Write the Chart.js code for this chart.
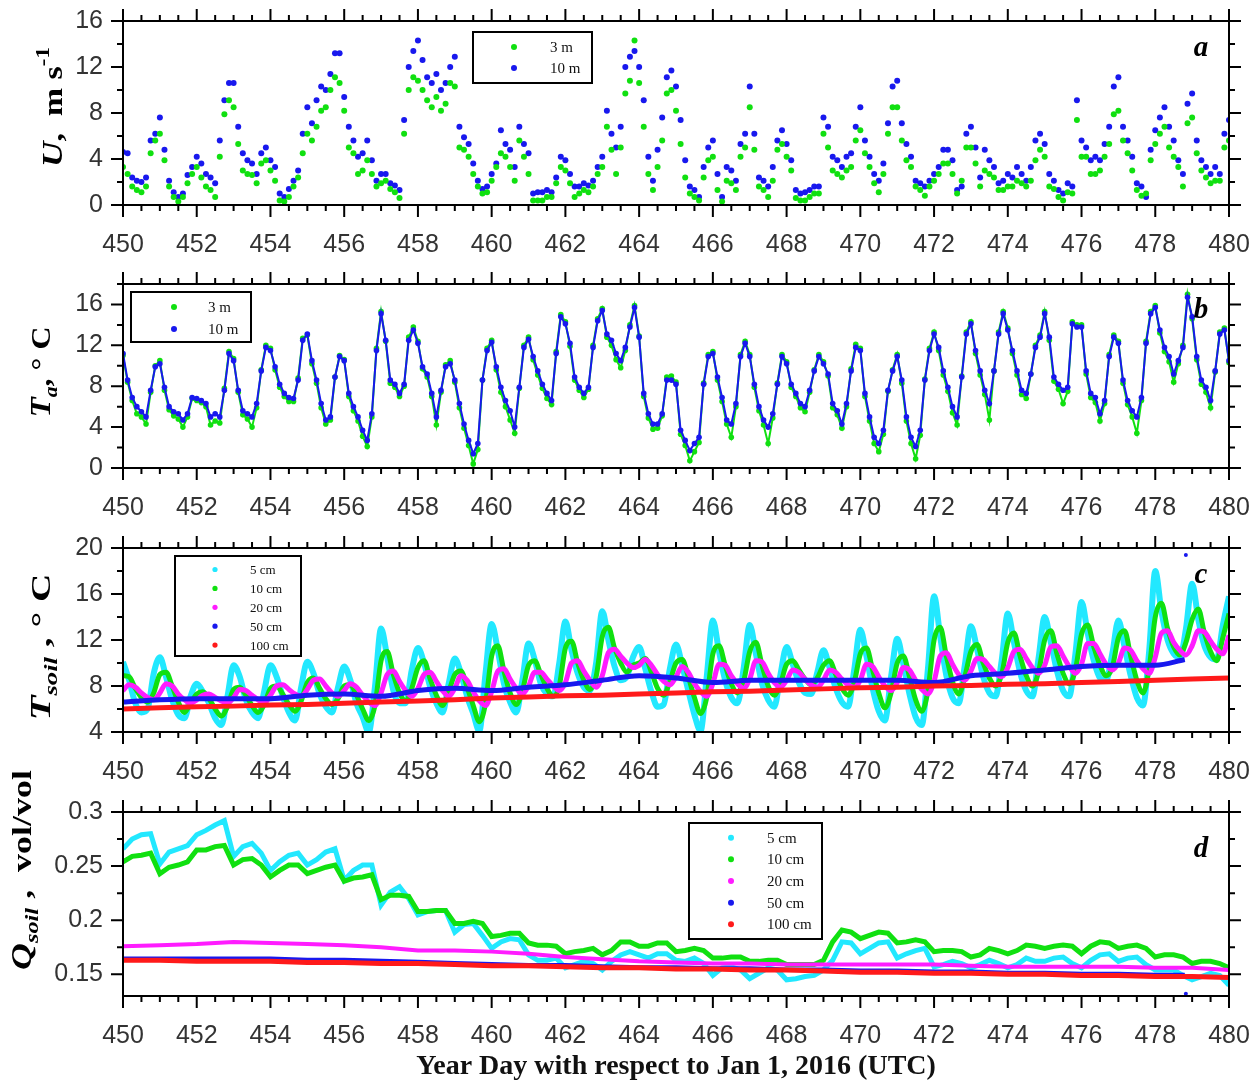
<!DOCTYPE html>
<html>
<head>
<meta charset="utf-8">
<script src="https://cdn.jsdelivr.net/npm/chart.js@4.4.1/dist/chart.umd.min.js"></script>
<style>
html, body { margin: 0; padding: 0; background: #fff; }
#wrap { position: relative; width: 1259px; height: 1084px; overflow: hidden; }
canvas { position: absolute; left: 0; }
</style>
</head>
<body>
<div id="wrap">
  <canvas id="panel-a" width="1259" height="263" style="top:0px"></canvas>
  <canvas id="panel-b" width="1259" height="264" style="top:263px"></canvas>
  <canvas id="panel-c" width="1259" height="264" style="top:527px"></canvas>
  <canvas id="panel-d" width="1259" height="324" style="top:760px"></canvas>
</div>
<script>
// ---- axis ticks ----
const xTicks = [450, 452, 454, 456, 458, 460, 462, 464, 466, 468, 470, 472, 474, 476, 478, 480];
const uTicks = [0, 4, 8, 12, 16];
const uMinor = [2, 6, 10, 14];
const taTicks = [0, 4, 8, 12, 16];
const taMinor = [2, 6, 10, 14, 18];
const tsTicks = [4, 8, 12, 16, 20];
const tsMinor = [6, 10, 14, 18];
const qTicks = [0.15, 0.2, 0.25, 0.3];
const qMinor = [0.175, 0.225, 0.275];

// ---- (a) wind speed, m/s, every 3 h from day 450 ----
const u3m = [
  3.3, 2.7, 1.6, 1.3, 1.1, 1.6, 4.5, 5.6,
  6.2, 3.9, 1.6, 0.7, 0.3, 0.7, 1.9, 2.7,
  3.3, 2.4, 1.6, 1.3, 0.7, 4.2, 7.9, 9.1,
  8.5, 5.3, 3.0, 2.7, 2.6, 1.9, 3.6, 3.9,
  3.0, 2.1, 0.4, 0.3, 0.7, 1.6, 2.4, 4.5,
  6.2, 5.6, 6.8, 8.2, 8.5, 10.0, 11.1, 10.6,
  8.2, 5.0, 4.5, 2.7, 3.0, 3.9, 2.7, 1.6,
  1.9, 2.1, 1.4, 1.1, 0.6, 6.2, 10.0, 11.1,
  10.8, 10.0, 9.1, 8.5, 9.4, 8.2, 8.8, 10.6,
  10.3, 5.0, 4.8, 4.2, 2.7, 1.6, 1.0, 1.1,
  2.1, 3.3, 4.5, 4.2, 3.3, 2.1, 5.6, 4.2,
  2.7, 0.4, 0.4, 0.4, 0.7, 0.7, 1.9, 3.3,
  3.0, 1.9, 0.7, 1.0, 1.3, 1.1, 1.6, 2.7,
  3.3, 6.8, 4.8, 2.7, 5.0, 9.7, 10.8, 14.3,
  10.6, 6.8, 2.7, 1.3, 3.3, 5.6, 9.7, 10.0,
  8.2, 5.3, 2.4, 1.0, 0.7, 0.4, 2.4, 3.9,
  4.2, 1.3, 0.3, 2.1, 1.9, 1.3, 4.2, 5.0,
  8.5, 4.8, 1.6, 1.3, 0.7, 2.1, 4.8, 5.3,
  4.2, 3.0, 0.6, 0.4, 0.4, 0.7, 1.0, 1.0,
  6.2, 5.0, 3.0, 2.7, 2.4, 3.0, 3.3, 5.6,
  6.5, 4.5, 3.3, 1.9, 1.1, 2.7, 6.2, 8.5,
  8.5, 5.6, 3.9, 3.3, 1.6, 1.3, 0.8, 1.6,
  2.1, 2.7, 3.6, 3.6, 2.7, 1.0, 2.1, 5.0,
  5.0, 3.6, 1.6, 3.0, 2.7, 2.4, 1.3, 1.3,
  1.6, 1.6, 2.1, 1.9, 1.6, 2.1, 3.9, 4.8,
  4.2, 1.6, 1.4, 0.7, 0.4, 1.1, 1.0, 7.4,
  4.2, 4.2, 2.7, 2.7, 3.0, 4.2, 5.3, 7.9,
  8.2, 5.6, 4.5, 3.0, 1.3, 0.8, 1.0, 3.9,
  5.3, 6.2, 6.8, 5.0, 4.2, 3.3, 1.6, 7.1,
  7.6, 4.5, 3.0, 2.4, 1.9, 2.1, 2.1, 5.0,
  5.6
];
const u10m = [
  4.6, 4.5, 2.4, 2.1, 2.0, 2.4, 5.6, 6.2,
  7.6, 4.8, 2.1, 1.1, 0.7, 1.0, 2.6, 3.3,
  4.2, 3.6, 2.7, 2.4, 1.9, 5.6, 9.1, 10.6,
  10.6, 6.8, 4.5, 3.9, 3.6, 2.7, 4.5, 5.0,
  3.9, 3.3, 1.0, 0.7, 1.4, 2.1, 3.0, 6.2,
  8.5, 7.1, 9.1, 10.3, 10.0, 11.4, 13.2, 13.2,
  9.4, 6.8, 5.6, 4.2, 4.5, 5.6, 3.9, 2.1,
  2.7, 2.7, 1.9, 1.7, 1.3, 7.4, 12.0, 13.4,
  14.3, 12.6, 11.1, 10.6, 11.4, 10.0, 10.6, 12.0,
  12.9, 6.8, 5.9, 5.3, 3.6, 2.1, 1.4, 1.6,
  2.7, 3.6, 6.5, 5.3, 4.8, 3.3, 6.8, 5.3,
  4.5, 1.0, 1.1, 1.1, 1.3, 1.1, 2.4, 4.2,
  3.9, 2.7, 1.6, 1.6, 1.9, 1.7, 2.1, 3.3,
  4.2, 8.2, 6.2, 5.0, 6.8, 12.0, 12.9, 13.4,
  12.0, 9.1, 4.2, 2.1, 4.8, 7.6, 11.1, 11.7,
  10.3, 7.4, 3.9, 1.6, 1.3, 0.7, 3.3, 5.0,
  5.6, 2.7, 0.7, 3.3, 3.0, 2.1, 5.3, 6.2,
  10.3, 6.2, 2.4, 2.1, 1.6, 3.3, 5.6, 6.5,
  5.3, 3.9, 1.3, 1.0, 1.1, 1.3, 1.6, 1.6,
  7.6, 6.8, 4.2, 3.9, 3.3, 4.2, 4.5, 6.8,
  8.5, 5.6, 4.2, 2.7, 2.1, 3.6, 7.1, 10.3,
  10.8, 7.1, 5.3, 4.2, 2.1, 1.9, 1.6, 2.1,
  2.7, 3.3, 4.8, 4.8, 3.9, 1.3, 1.6, 6.2,
  6.8, 5.0, 2.4, 4.8, 3.9, 3.3, 1.9, 2.1,
  2.7, 2.4, 3.3, 2.7, 2.1, 3.3, 5.6, 6.2,
  5.3, 2.7, 2.1, 1.3, 1.0, 1.9, 1.6, 9.1,
  5.6, 5.0, 3.9, 4.2, 3.9, 5.3, 6.8, 10.3,
  11.1, 6.8, 5.6, 4.2, 1.9, 1.6, 0.7, 4.8,
  6.5, 7.6, 8.5, 6.8, 5.6, 3.9, 2.7, 8.8,
  9.7, 5.6, 3.9, 3.3, 2.7, 3.3, 2.7, 6.2,
  7.4
];

// ---- (b) air temperature, deg C, every 3 h from day 450 ----
const ta3m = [
  11.0, 8.4, 6.6, 5.3, 5.0, 4.3, 7.4, 10.0,
  10.5, 7.6, 5.7, 5.1, 4.8, 4.0, 5.0, 6.8,
  6.6, 6.4, 6.0, 4.2, 4.6, 4.4, 7.8, 11.4,
  10.7, 7.4, 5.2, 4.8, 4.0, 5.9, 9.6, 12.0,
  11.7, 9.6, 7.9, 7.0, 6.5, 6.5, 8.8, 12.7,
  13.0, 10.2, 8.3, 5.9, 4.3, 4.7, 8.9, 11.0,
  10.6, 7.0, 5.6, 4.6, 3.1, 2.1, 5.0, 11.7,
  15.3, 12.4, 8.3, 7.9, 7.0, 8.0, 12.8, 13.8,
  12.4, 9.7, 8.9, 7.0, 4.2, 7.4, 10.1, 10.5,
  8.4, 5.9, 3.9, 2.2, 0.4, 1.8, 8.6, 11.7,
  12.5, 9.6, 7.4, 6.0, 4.7, 3.4, 7.8, 12.0,
  12.8, 10.6, 9.1, 7.8, 6.8, 6.2, 11.4, 15.0,
  14.3, 11.9, 8.6, 7.6, 6.9, 7.7, 12.0, 14.6,
  15.6, 12.8, 12.0, 10.6, 9.8, 11.5, 14.0, 15.9,
  12.9, 7.0, 4.9, 3.8, 3.9, 5.1, 8.9, 9.0,
  8.4, 3.3, 2.2, 0.7, 1.6, 2.5, 8.3, 11.1,
  11.4, 8.6, 6.5, 4.3, 3.0, 6.0, 11.1, 12.4,
  11.1, 7.9, 5.6, 4.2, 2.4, 4.9, 8.3, 11.1,
  10.4, 7.9, 7.0, 5.9, 5.5, 7.4, 9.6, 11.1,
  10.4, 9.0, 5.9, 5.2, 3.9, 6.0, 9.7, 12.1,
  11.7, 7.0, 4.6, 2.4, 1.6, 3.3, 7.5, 9.6,
  11.1, 8.3, 4.6, 2.4, 0.9, 3.2, 8.7, 11.7,
  13.3, 11.5, 9.1, 7.5, 5.4, 4.2, 9.0, 13.3,
  14.3, 11.2, 9.1, 7.2, 4.7, 9.5, 13.3, 15.3,
  13.7, 11.2, 9.1, 7.2, 6.8, 9.2, 12.0, 13.0,
  15.3, 12.5, 8.5, 7.7, 6.3, 7.5, 14.3, 14.0,
  14.0, 9.2, 6.9, 6.4, 4.6, 6.3, 11.1, 13.0,
  12.4, 8.3, 6.2, 5.0, 3.4, 6.6, 12.4, 15.3,
  15.9, 13.2, 11.4, 10.4, 8.4, 10.2, 12.0, 17.0,
  14.6, 10.6, 8.2, 7.4, 5.9, 9.4, 13.3, 13.7,
  10.3
];
const ta10m = [
  11.2, 8.6, 6.9, 6.0, 5.5, 5.0, 7.6, 9.9,
  10.2, 7.9, 6.0, 5.5, 5.3, 4.7, 5.3, 6.9,
  6.8, 6.6, 6.3, 5.0, 5.3, 5.0, 7.6, 11.2,
  10.5, 7.6, 5.6, 5.3, 5.0, 6.3, 9.5, 11.8,
  11.5, 9.9, 8.2, 7.3, 6.9, 6.8, 8.6, 12.5,
  13.1, 10.5, 8.6, 6.3, 4.7, 5.0, 8.9, 10.9,
  10.5, 7.3, 6.0, 5.0, 3.7, 2.7, 5.3, 11.5,
  15.1, 12.5, 8.6, 8.2, 7.3, 8.2, 12.5, 13.5,
  12.2, 9.9, 9.2, 7.3, 5.0, 7.6, 9.9, 10.2,
  8.6, 6.3, 4.3, 2.7, 1.4, 2.4, 8.6, 11.5,
  12.3, 9.9, 7.9, 6.6, 5.6, 4.0, 7.9, 11.8,
  12.6, 10.9, 9.5, 8.2, 7.3, 6.6, 11.2, 14.8,
  14.1, 12.2, 8.9, 7.9, 7.3, 7.9, 11.8, 14.4,
  15.4, 13.1, 12.5, 11.2, 10.5, 11.8, 13.8, 15.7,
  12.8, 7.3, 5.3, 4.3, 4.3, 5.3, 8.6, 8.6,
  8.2, 3.7, 2.7, 1.7, 2.4, 3.0, 8.2, 10.9,
  11.2, 8.9, 6.9, 4.7, 4.3, 6.3, 10.9, 12.2,
  10.9, 8.2, 6.0, 4.7, 4.0, 5.3, 8.2, 10.9,
  10.2, 8.2, 7.3, 6.3, 6.0, 7.6, 9.5, 10.9,
  10.2, 9.2, 6.3, 5.6, 4.3, 6.3, 9.5, 11.8,
  11.5, 7.3, 5.0, 3.0, 2.4, 3.7, 7.6, 9.5,
  10.9, 8.6, 5.0, 3.0, 2.1, 3.7, 8.6, 11.5,
  13.1, 11.8, 9.5, 7.9, 6.0, 5.0, 8.9, 13.1,
  14.1, 11.5, 9.5, 7.6, 6.3, 9.5, 13.1, 15.1,
  13.5, 11.5, 9.5, 7.6, 7.3, 9.2, 11.8, 12.8,
  15.1, 12.8, 8.9, 8.2, 7.6, 7.9, 14.1, 13.8,
  13.8, 9.5, 7.3, 6.9, 5.3, 6.6, 10.9, 12.8,
  12.2, 8.6, 6.6, 5.6, 5.0, 6.9, 12.2, 15.1,
  15.7, 13.5, 11.8, 10.9, 9.2, 10.5, 11.8, 16.7,
  14.8, 10.9, 8.6, 7.9, 6.6, 9.5, 13.1, 13.5,
  10.5
];

// ---- (c) soil temperature, deg C, every 4 h from day 450 ----
const tSoil5 = [
  10.1, 8.5, 6.5, 5.7, 6.0, 9.1,
  10.5, 8.8, 6.8, 5.5, 5.2, 7.1,
  8.2, 7.5, 6.5, 5.2, 4.6, 7.1,
  9.8, 8.8, 6.8, 5.7, 5.2, 7.6,
  9.8, 8.8, 7.1, 5.7, 5.0, 7.9,
  10.1, 9.1, 7.3, 6.2, 5.7, 7.9,
  9.7, 8.5, 6.5, 5.3, 4.0, 7.9,
  13.0, 10.5, 7.6, 6.5, 6.5, 9.4,
  11.3, 10.0, 7.9, 6.5, 5.7, 8.2,
  10.4, 9.1, 7.1, 5.6, 4.1, 9.1,
  13.4, 11.1, 8.2, 6.6, 5.7, 8.5,
  11.7, 10.3, 8.2, 7.3, 7.1, 10.0,
  13.6, 11.1, 9.1, 7.9, 7.6, 10.0,
  14.5, 12.0, 9.7, 8.5, 8.8, 10.5,
  11.4, 9.5, 7.5, 6.2, 6.4, 9.5,
  11.6, 9.8, 7.6, 5.5, 4.1, 8.8,
  13.7, 11.0, 8.5, 7.0, 6.5, 9.5,
  13.3, 10.8, 8.2, 6.8, 6.2, 9.0,
  11.4, 9.9, 8.3, 7.4, 7.3, 9.2,
  11.1, 9.6, 7.8, 6.6, 6.2, 9.4,
  12.9, 10.6, 7.8, 5.8, 5.0, 8.8,
  12.1, 9.9, 7.3, 5.3, 4.6, 9.5,
  15.8, 12.3, 8.9, 7.0, 6.5, 9.8,
  13.2, 11.2, 8.8, 7.4, 7.1, 10.2,
  14.3, 11.8, 9.2, 7.6, 7.1, 10.4,
  14.0, 11.8, 9.3, 7.6, 7.1, 10.8,
  15.3, 12.6, 10.2, 8.7, 8.5, 10.8,
  13.7, 11.4, 8.9, 7.0, 6.3, 11.0,
  18.0, 14.5, 12.0, 10.8, 10.5, 13.0,
  16.9, 13.8, 11.5, 10.5, 10.3, 13.3,
  15.8
];
const tSoil10 = [
  8.9, 8.8, 7.8, 7.0, 6.6, 7.4,
  9.0, 9.2, 8.0, 6.6, 5.7, 6.5,
  7.3, 7.5, 6.9, 6.0, 5.4, 6.2,
  7.7, 7.9, 7.2, 6.3, 5.7, 6.4,
  7.8, 8.0, 7.3, 6.4, 5.8, 6.7,
  8.3, 8.7, 7.8, 6.9, 6.4, 6.9,
  8.0, 8.1, 7.2, 6.0, 5.0, 6.3,
  10.2, 11.0, 9.0, 7.4, 6.7, 7.8,
  9.6, 10.2, 8.6, 7.2, 6.3, 7.5,
  9.0, 9.3, 7.9, 6.3, 4.9, 6.5,
  10.6, 11.5, 9.3, 7.4, 6.4, 7.6,
  9.8, 10.2, 9.0, 7.8, 7.1, 8.0,
  11.3, 11.9, 10.0, 8.5, 7.7, 8.8,
  12.3, 13.1, 11.3, 10.0, 9.2, 9.8,
  10.0, 10.4, 9.2, 7.8, 7.2, 8.4,
  10.0, 10.3, 8.8, 7.0, 5.6, 7.0,
  10.8, 11.5, 9.8, 8.2, 7.4, 8.4,
  11.0, 11.8, 9.8, 8.0, 7.2, 8.2,
  9.9, 10.2, 9.4, 8.6, 8.1, 8.7,
  9.8, 10.2, 9.0, 7.8, 7.2, 8.3,
  10.8, 11.3, 9.4, 7.4, 6.1, 7.4,
  10.0, 10.6, 8.8, 6.8, 5.8, 7.6,
  12.0, 13.1, 10.6, 8.4, 7.3, 8.8,
  11.0, 11.6, 10.0, 8.7, 8.0, 9.0,
  11.8, 12.6, 10.6, 8.9, 8.0, 9.2,
  12.0, 12.8, 10.8, 9.1, 8.2, 9.4,
  12.5, 13.3, 11.4, 9.8, 8.9, 9.6,
  12.2, 12.8, 10.6, 8.5, 7.4, 9.5,
  14.0, 15.2, 13.0, 11.4, 10.7, 11.8,
  13.8, 14.7, 12.6, 11.0, 10.2, 12.2,
  14.3
];
const tSoil20 = [
  7.6, 8.1, 7.9, 7.4, 7.0, 6.8,
  7.4, 8.2, 8.0, 7.3, 6.8, 6.5,
  6.8, 7.2, 7.3, 7.0, 6.7, 6.5,
  7.0, 7.7, 7.6, 7.2, 6.8, 6.5,
  7.2, 8.0, 8.1, 7.7, 7.3, 7.1,
  7.7, 8.5, 8.6, 8.0, 7.4, 7.1,
  7.6, 8.2, 7.9, 7.2, 6.6, 6.3,
  7.4, 9.0, 9.3, 8.4, 7.6, 7.1,
  7.8, 9.0, 9.2, 8.4, 7.6, 7.1,
  7.8, 8.9, 8.5, 7.5, 6.7, 6.3,
  7.5, 9.3, 9.5, 8.6, 7.8, 7.3,
  8.0, 9.2, 9.2, 8.6, 8.0, 7.6,
  8.3, 10.0, 10.2, 9.3, 8.5, 7.9,
  8.9, 10.9, 11.2, 10.6, 10.0, 9.6,
  9.8, 10.3, 9.8, 9.0, 8.4, 8.1,
  8.8, 9.7, 9.2, 8.2, 7.5, 7.1,
  8.2, 9.9, 9.8, 8.9, 8.2, 7.8,
  8.6, 10.2, 10.1, 9.1, 8.3, 7.9,
  8.5, 9.4, 9.2, 8.6, 8.1, 7.9,
  8.5, 9.4, 9.2, 8.6, 8.1, 7.9,
  8.5, 9.9, 9.7, 8.8, 8.0, 7.6,
  8.3, 9.6, 9.4, 8.5, 7.7, 7.3,
  8.4, 10.6, 10.9, 9.9, 9.0, 8.5,
  9.3, 10.4, 10.3, 9.7, 9.1, 8.8,
  9.6, 11.0, 11.2, 10.4, 9.6, 9.1,
  9.8, 11.4, 11.5, 10.6, 9.7, 9.1,
  9.9, 11.7, 11.7, 10.8, 9.9, 9.4,
  10.0, 11.3, 11.1, 10.2, 9.5, 9.1,
  10.5, 12.6, 12.8, 11.8, 11.1, 10.7,
  11.5, 12.8, 12.7, 11.9, 11.2, 10.8,
  12.4
];
const deepDays = [450, 451, 452, 453, 454, 455, 456, 457, 458, 459, 460, 461, 462, 463, 464, 465,
                  466, 467, 468, 469, 470, 471, 472, 473, 474, 475, 476, 477, 478, 479, 480];
const days50 = [450, 451, 452, 453, 454, 455, 456, 457, 458, 459, 460, 461, 462, 463, 464,
                465, 466, 467, 468, 469, 470, 471, 472, 473, 474, 475, 476, 477, 478, 478.8];
const tSoil50 = [6.6, 6.8, 6.9, 6.9, 6.9, 7.2, 7.3, 7.1, 7.6, 7.8, 7.6, 7.9, 8.1, 8.5, 8.9,
                 8.7, 8.3, 8.5, 8.5, 8.5, 8.5, 8.5, 8.3, 8.9, 9.1, 9.4, 9.7, 9.8, 9.8, 10.3];
const tSoil100 = [6.0, 6.1, 6.2, 6.25, 6.35, 6.4, 6.5, 6.6, 6.7, 6.8, 6.95, 7.05, 7.15, 7.2, 7.3, 7.4,
                  7.5, 7.55, 7.65, 7.75, 7.85, 7.9, 8.0, 8.05, 8.15, 8.2, 8.3, 8.4, 8.5, 8.6, 8.7];
const tSoil50Spike = [478.83, 19.4];

// ---- (d) soil moisture, vol/vol, every 6 h from day 450 ----
const qSoil5 = [
  0.266, 0.275, 0.279, 0.280,
  0.252, 0.263, 0.266, 0.269,
  0.279, 0.283, 0.288, 0.292,
  0.259, 0.268, 0.271, 0.262,
  0.246, 0.254, 0.260, 0.262,
  0.251, 0.256, 0.263, 0.266,
  0.237, 0.246, 0.251, 0.251,
  0.214, 0.226, 0.231, 0.220,
  0.205, 0.208, 0.209, 0.209,
  0.189, 0.196, 0.197, 0.186,
  0.174, 0.180, 0.183, 0.182,
  0.168, 0.163, 0.163, 0.165,
  0.156, 0.159, 0.162, 0.160,
  0.154, 0.162, 0.168, 0.171,
  0.168, 0.165, 0.169, 0.169,
  0.163, 0.162, 0.165, 0.160,
  0.149, 0.156, 0.157, 0.154,
  0.146, 0.151, 0.156, 0.154,
  0.145, 0.146, 0.148, 0.149,
  0.154, 0.163, 0.180, 0.179,
  0.169, 0.174, 0.179, 0.180,
  0.165, 0.169, 0.172, 0.174,
  0.157, 0.159, 0.162, 0.160,
  0.156, 0.159, 0.163, 0.160,
  0.156, 0.159, 0.165, 0.162,
  0.162, 0.165, 0.166, 0.160,
  0.156, 0.163, 0.168, 0.169,
  0.162, 0.165, 0.166, 0.159,
  0.154, 0.154, 0.154, 0.149,
  0.145, 0.148, 0.151, 0.149,
  0.140
];
const qSoil10 = [
  0.254, 0.259, 0.260, 0.262,
  0.243, 0.249, 0.251, 0.254,
  0.265, 0.265, 0.268, 0.269,
  0.251, 0.256, 0.257, 0.251,
  0.240, 0.246, 0.251, 0.251,
  0.243, 0.246, 0.249, 0.251,
  0.236, 0.239, 0.240, 0.242,
  0.219, 0.223, 0.223, 0.222,
  0.208, 0.208, 0.209, 0.209,
  0.197, 0.197, 0.199, 0.197,
  0.185, 0.186, 0.188, 0.188,
  0.179, 0.177, 0.177, 0.176,
  0.169, 0.171, 0.172, 0.174,
  0.168, 0.172, 0.180, 0.180,
  0.176, 0.176, 0.179, 0.179,
  0.171, 0.172, 0.174, 0.172,
  0.165, 0.165, 0.166, 0.166,
  0.162, 0.162, 0.163, 0.163,
  0.159, 0.159, 0.159, 0.159,
  0.163, 0.180, 0.191, 0.189,
  0.183, 0.186, 0.189, 0.188,
  0.179, 0.180, 0.182, 0.180,
  0.171, 0.172, 0.172, 0.171,
  0.166, 0.168, 0.174, 0.172,
  0.169, 0.172, 0.177, 0.176,
  0.174, 0.176, 0.177, 0.176,
  0.169, 0.176, 0.180, 0.179,
  0.174, 0.176, 0.177, 0.174,
  0.166, 0.168, 0.168, 0.166,
  0.160, 0.162, 0.162, 0.160,
  0.156
];
const qSoil20 = [0.176, 0.177, 0.178, 0.180, 0.179, 0.178, 0.177, 0.175, 0.172, 0.172, 0.171, 0.169, 0.166, 0.164, 0.162, 0.161,
                 0.160, 0.160, 0.159, 0.159, 0.159, 0.159, 0.159, 0.158, 0.157, 0.157, 0.157, 0.157, 0.156, 0.156, 0.154];
const qSoil50 = [0.165, 0.165, 0.165, 0.165, 0.165, 0.164, 0.164, 0.163, 0.162, 0.161, 0.160, 0.159, 0.159, 0.158, 0.157,
                 0.157, 0.156, 0.156, 0.155, 0.155, 0.154, 0.154, 0.153, 0.153, 0.152, 0.152, 0.151, 0.151, 0.150, 0.150];
const qSoil100 = [0.163, 0.163, 0.162, 0.162, 0.162, 0.161, 0.161, 0.160, 0.160, 0.159, 0.158, 0.158, 0.157, 0.156, 0.156, 0.155,
                  0.155, 0.154, 0.154, 0.153, 0.152, 0.152, 0.151, 0.151, 0.150, 0.150, 0.149, 0.149, 0.148, 0.148, 0.147];
const qSoil50Spike = [478.83, 0.132];

const SANS = "'Liberation Sans', Arial, Helvetica, sans-serif";
const SERIF = "'Liberation Serif', 'Times New Roman', Times, serif";
const COLORS = {
    green: '#10e010',
    blue: '#1818ee',
    cyan: '#22e8ff',
    magenta: '#ff1cff',
    red: '#ff1a1a'
};

// regular time series -> {x, y}
function series(start, perDay, values) {
    return values.map((v, i) => ({ x: start + i / perDay, y: v }));
}
function pairs(days, values) {
    return values.map((v, i) => ({ x: days[i], y: v }));
}

function dotSet(label, data, color, order, r = 2.9, legend = true, lineWidth = 0) {
    return {
        label, data, order, legend,
        showLine: lineWidth > 0,
        borderWidth: lineWidth,
        pointRadius: r,
        pointBorderWidth: 0,
        pointBackgroundColor: color,
        backgroundColor: color,
        borderColor: color
    };
}
function lineSet(label, data, color, width, order, smooth) {
    return {
        label, data, order, legend: true,
        showLine: true,
        borderColor: color,
        backgroundColor: color,
        borderWidth: width,
        pointRadius: 0,
        tension: smooth ? 0.4 : 0,
        cubicInterpolationMode: smooth ? 'monotone' : 'default'
    };
}

// frame, outward ticks on all four sides, legend box, panel letter, y title
const decor = {
    id: 'decor',
    afterDatasetsDraw(chart, args, o) {
        const { ctx, chartArea: a } = chart;
        const x = chart.scales.x, y = chart.scales.y;
        ctx.save();
        ctx.strokeStyle = '#000';
        ctx.lineWidth = 2;
        ctx.strokeRect(a.left, a.top, a.right - a.left, a.bottom - a.top);

        ctx.beginPath();
        for (let k = 0; k <= 60; k++) {
            const p = x.getPixelForValue(450 + k * 0.5);
            const len = (k % 4 === 0) ? 12 : 6;
            ctx.moveTo(p, a.top); ctx.lineTo(p, a.top - len);
            ctx.moveTo(p, a.bottom); ctx.lineTo(p, a.bottom + len);
        }
        const yTick = (v, len) => {
            const p = y.getPixelForValue(v);
            ctx.moveTo(a.left, p); ctx.lineTo(a.left - len, p);
            ctx.moveTo(a.right, p); ctx.lineTo(a.right + len, p);
        };
        o.yMajor.forEach(v => yTick(v, 12));
        o.yMinor.forEach(v => yTick(v, 6));
        ctx.stroke();

        // legend
        const L = o.legend;
        ctx.fillStyle = '#fff';
        ctx.fillRect(L.x, L.y, L.w, L.h);
        ctx.strokeRect(L.x, L.y, L.w, L.h);
        ctx.font = L.font;
        ctx.textAlign = 'left';
        ctx.textBaseline = 'middle';
        chart.data.datasets.filter(d => d.legend).forEach((d, i) => {
            const cy = L.y + L.first + i * L.gap;
            ctx.fillStyle = d.borderColor;
            ctx.beginPath();
            ctx.arc(L.dotX, cy, L.r, 0, Math.PI * 2);
            ctx.fill();
            ctx.fillStyle = '#111';
            ctx.fillText(d.label, L.textX, cy + 1);
        });

        // panel letter
        ctx.fillStyle = '#000';
        ctx.font = 'italic bold 29px ' + SERIF;
        ctx.textAlign = 'center';
        ctx.textBaseline = 'alphabetic';
        ctx.fillText(o.letter.text, o.letter.x, o.letter.y);

        // rotated y title built from parts (sub/superscripts), stretched to its length
        const T = o.yTitle;
        let total = 0;
        T.parts.forEach(p => { ctx.font = p.font; total += ctx.measureText(p.text).width; });
        ctx.translate(T.x, T.cy);
        ctx.rotate(-Math.PI / 2);
        ctx.scale(T.len / total, 1);
        let u = -total / 2;
        ctx.textAlign = 'left';
        T.parts.forEach(p => {
            ctx.font = p.font;
            ctx.fillText(p.text, u, p.dy || 0);
            u += ctx.measureText(p.text).width;
        });
        ctx.restore();
    }
};

function makeOptions(cfg) {
    const top = cfg.top || 21;
    return {
        responsive: false,
        animation: false,
        devicePixelRatio: 1,
        events: [],
        layout: { padding: { top: top, right: 30, left: 0, bottom: 0 } },
        plugins: {
            legend: { display: false },
            tooltip: { enabled: false },
            decor: cfg.decor
        },
        scales: {
            x: {
                type: 'linear',
                min: 450,
                max: 480,
                afterBuildTicks: s => { s.ticks = xTicks.map(v => ({ value: v })); },
                afterFit: s => { s.height = cfg.axisH; s.paddingLeft = 0; s.paddingRight = 0; },
                grid: { display: false, drawTicks: false },
                border: { display: false },
                ticks: {
                    padding: 25,
                    autoSkip: false,
                    maxRotation: 0,
                    color: '#333',
                    font: { family: SANS, size: 25 },
                    callback: v => String(v)
                },
                title: cfg.xTitle ? {
                    display: true,
                    text: cfg.xTitle,
                    color: '#111',
                    font: { family: SERIF, size: 28, weight: 'bold' },
                    padding: { top: 0, bottom: 0 }
                } : { display: false }
            },
            y: {
                type: 'linear',
                min: cfg.ymin,
                max: cfg.ymax,
                afterBuildTicks: s => { s.ticks = cfg.yTicks.map(v => ({ value: v })); },
                afterFit: s => { s.width = 123; s.paddingTop = 0; s.paddingBottom = 0; },
                grid: { display: false, drawTicks: false },
                border: { display: false },
                ticks: {
                    padding: 20,
                    color: '#333',
                    font: { family: SANS, size: 25 },
                    callback: v => String(v)
                }
            }
        }
    };
}

const TITLE_BIG = 'bold 28px ' + SERIF;
const TITLE_IT = 'italic bold 29px ' + SERIF;
const TITLE_SUB = 'italic bold 19px ' + SERIF;

// (a) wind speed
new Chart(document.getElementById('panel-a'), {
    type: 'scatter',
    data: {
        datasets: [
            dotSet('3 m', series(450, 8, u3m), COLORS.green, 0, 3),
            dotSet('10 m', series(450, 8, u10m), COLORS.blue, 1, 3)
        ]
    },
    options: makeOptions({
        ymin: 0, ymax: 16, yTicks: uTicks, axisH: 58,
        decor: {
            yMajor: uTicks, yMinor: uMinor,
            legend: { x: 473, y: 32, w: 119, h: 51, first: 15, gap: 21, dotX: 514, textX: 550, r: 3, font: '15px ' + SERIF },
            letter: { text: 'a', x: 1201, y: 56 },
            yTitle: {
                x: 62, cy: 107, len: 120, parts: [
                    { text: 'U', font: TITLE_IT },
                    { text: ',  m s', font: TITLE_BIG },
                    { text: '-1', font: 'bold 19px ' + SERIF, dy: -13 }
                ]
            }
        }
    }),
    plugins: [decor]
});

// (b) air temperature
new Chart(document.getElementById('panel-b'), {
    type: 'scatter',
    data: {
        datasets: [
            dotSet('3 m', series(450, 8, ta3m), COLORS.green, 1, 2.8, true, 2),
            dotSet('10 m', series(450, 8, ta10m), COLORS.blue, 0, 2.8, true, 2)
        ]
    },
    options: makeOptions({
        ymin: 0, ymax: 18, yTicks: taTicks, axisH: 59,
        decor: {
            yMajor: taTicks, yMinor: taMinor,
            legend: { x: 131, y: 29, w: 120, h: 50, first: 15, gap: 22, dotX: 174, textX: 208, r: 3, font: '15px ' + SERIF },
            letter: { text: 'b', x: 1201, y: 55 },
            yTitle: {
                x: 50, cy: 109, len: 91, parts: [
                    { text: 'T', font: TITLE_IT },
                    { text: 'a', font: TITLE_SUB, dy: 7 },
                    { text: ', \u00B0 C', font: TITLE_BIG }
                ]
            }
        }
    }),
    plugins: [decor]
});

// (c) soil temperature
new Chart(document.getElementById('panel-c'), {
    type: 'scatter',
    data: {
        datasets: [
            lineSet('5 cm', series(450, 6, tSoil5), COLORS.cyan, 6, 4, true),
            lineSet('10 cm', series(450, 6, tSoil10), COLORS.green, 5, 3, true),
            lineSet('20 cm', series(450, 6, tSoil20), COLORS.magenta, 5, 2, true),
            lineSet('50 cm', pairs(days50, tSoil50), COLORS.blue, 5, 1, true),
            lineSet('100 cm', pairs(deepDays, tSoil100), COLORS.red, 5, 0, false),
            dotSet('', [{ x: tSoil50Spike[0], y: tSoil50Spike[1] }], COLORS.blue, 0, 2, false)
        ]
    },
    options: makeOptions({
        ymin: 4, ymax: 20, yTicks: tsTicks, axisH: 59,
        decor: {
            yMajor: tsTicks, yMinor: tsMinor,
            legend: { x: 175, y: 29, w: 126, h: 100, first: 13.5, gap: 18.9, dotX: 215, textX: 250, r: 2.6, font: '13px ' + SERIF },
            letter: { text: 'c', x: 1201, y: 56 },
            yTitle: {
                x: 50, cy: 120, len: 147, parts: [
                    { text: 'T', font: TITLE_IT },
                    { text: 'soil', font: TITLE_SUB, dy: 7 },
                    { text: ' , \u00B0 C', font: TITLE_BIG }
                ]
            }
        }
    }),
    plugins: [decor]
});

// (d) soil moisture (canvas starts at y=760 so the long title fits)
new Chart(document.getElementById('panel-d'), {
    type: 'scatter',
    data: {
        datasets: [
            lineSet('5 cm', series(450, 4, qSoil5), COLORS.cyan, 5, 4, false),
            lineSet('10 cm', series(450, 4, qSoil10), COLORS.green, 5, 3, false),
            lineSet('20 cm', pairs(deepDays, qSoil20), COLORS.magenta, 4, 2, false),
            lineSet('50 cm', pairs(days50, qSoil50), COLORS.blue, 3, 1, false),
            lineSet('100 cm', pairs(deepDays, qSoil100), COLORS.red, 5, 0, false),
            dotSet('', [{ x: qSoil50Spike[0], y: qSoil50Spike[1] }], COLORS.blue, 0, 2, false)
        ]
    },
    options: makeOptions({
        ymin: 0.13, ymax: 0.3, yTicks: qTicks, axisH: 88, top: 52,
        xTitle: 'Year Day with respect to Jan 1, 2016 (UTC)',
        decor: {
            yMajor: qTicks, yMinor: qMinor,
            legend: { x: 689, y: 63, w: 133, h: 116, first: 14.7, gap: 21.65, dotX: 731, textX: 767, r: 3, font: '15px ' + SERIF },
            letter: { text: 'd', x: 1201, y: 97 },
            yTitle: {
                x: 31, cy: 110, len: 200, parts: [
                    { text: 'Q', font: TITLE_IT },
                    { text: 'soil', font: TITLE_SUB, dy: 7 },
                    { text: ' ,  vol/vol', font: TITLE_BIG }
                ]
            }
        }
    }),
    plugins: [decor]
});
</script>
</body>
</html>
